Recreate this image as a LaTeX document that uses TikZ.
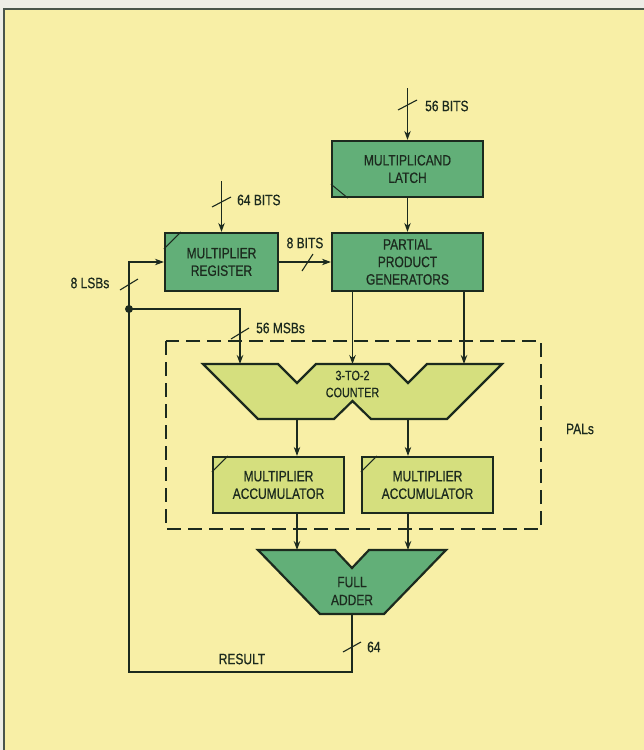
\documentclass[tikz,border=0pt]{standalone}
\usepackage{fontspec}
\setmainfont{Liberation Sans}[FakeStretch=0.8, FakeBold=0.6]
\usetikzlibrary{arrows.meta}
\definecolor{bgyel}{HTML}{F8EFA6}
\definecolor{outer}{HTML}{EDEDE6}
\definecolor{dkgreen}{HTML}{62AF78}
\definecolor{ltgreen}{HTML}{D5DF7E}
\definecolor{ink}{HTML}{1C2A1E}
\tikzset{
  blk/.style={draw=ink, line width=2.2pt, inner sep=0pt, align=center, font=\fontsize{15}{17.5}\selectfont, text=ink},
  dkbox/.style={blk, fill=dkgreen},
  ltbox/.style={blk, fill=ltgreen},
  wire/.style={draw=ink, line width=1.1pt},
  arr/.style={wire, -{Stealth[length=9pt,width=6.5pt]}},
  lbl/.style={font=\fontsize{15}{17}\selectfont, text=ink, inner sep=0pt},
  tick/.style={draw=ink, line width=1.1pt},
  corner/.style={draw=ink, line width=1pt},
}
\begin{document}
\begin{tikzpicture}[x=1pt,y=-1pt]
\useasboundingbox (0,0) rectangle (644,750);
\fill[outer] (0,0) rectangle (644,750);
\fill[bgyel] (3,8) rectangle (644,750);
\draw[draw=ink!80, line width=2.4pt] (4,750) -- (4,9) -- (644,9);

% blocks
\node[dkbox, minimum width=151pt, minimum height=56pt] (latch) at (407.5,169) {MULTIPLICAND\\LATCH};
\node[dkbox, minimum width=113pt, minimum height=58pt] (mreg) at (221.5,262) {MULTIPLIER\\REGISTER};
\node[dkbox, minimum width=151pt, minimum height=58pt] (ppg) at (407.5,262) {PARTIAL\\PRODUCT\\GENERATORS};
\node[ltbox, minimum width=131pt, minimum height=56pt] (acc1) at (278.5,485) {MULTIPLIER\\ACCUMULATOR};
\node[ltbox, minimum width=131pt, minimum height=56pt] (acc2) at (427.5,485) {MULTIPLIER\\ACCUMULATOR};

% corner marks
\draw[corner] ([yshift=-17pt]mreg.north west) -- ([xshift=17pt]mreg.north west);
\draw[corner] ([yshift=14pt]latch.south west) -- ([xshift=17pt]latch.south west);
\draw[corner] ([yshift=-16pt]acc1.north west) -- ([xshift=16pt]acc1.north west);
\draw[corner] ([yshift=-16pt]acc2.north west) -- ([xshift=16pt]acc2.north west);

% counter
\coordinate (cin1) at (240,364);
\coordinate (cin2) at (352.5,364);
\coordinate (cin3) at (464,364);
\coordinate (cout1) at (297,419);
\coordinate (cout2) at (408,419);
\draw[fill=ltgreen, draw=ink, line width=2.2pt, line join=miter]
  (203,364) -- (278,364) -- (297,383) -- (316,364) -- (389,364) -- (408,383) -- (427,364) -- (502,364)
  -- (447,419) -- (371,419) -- (352.5,401) -- (334,419) -- (258,419) -- cycle;
\node[lbl, align=center, font=\fontsize{13.5}{17}\selectfont] (counter) at (352.5,384) {3-TO-2\\COUNTER};

% full adder
\coordinate (ain1) at (297,550);
\coordinate (ain2) at (408,550);
\coordinate (aout) at (352,614);
\draw[fill=dkgreen, draw=ink, line width=2.2pt, line join=miter]
  (258,550) -- (335,550) -- (352,568) -- (369,550) -- (446,550) -- (384,614) -- (320,614) -- cycle;
\node[lbl, align=center, font=\fontsize{15}{18}\selectfont] (adder) at (352,591) {FULL\\ADDER};

% dashed PAL region
\draw[draw=ink, line width=1.2pt, dash pattern=on 14pt off 7pt] (166,341) rectangle (541,529);
\node[lbl] (pals) at (580,429) {PALs};

% inputs
\coordinate (in56) at (407.5,88);
\coordinate (in64) at (221.5,181);
\draw[arr] (in56) -- (latch.north);
\draw[tick] (398,110) -- (417,100);
\node[lbl, anchor=west] (l56) at (425,106) {56 BITS};
\draw[arr] (in64) -- (mreg.north);
\draw[tick] (212,207) -- (231,197);
\node[lbl, anchor=west] (l64) at (237,200) {64 BITS};

\draw[arr] (latch.south) -- (ppg.north);
\draw[arr] (mreg.east) -- (ppg.west);
\draw[tick] (302,271) -- (313,254);
\node[lbl] (l8) at (305,243) {8 BITS};

% PPG to counter
\draw[arr] (ppg.south -| cin2) -- (cin2);
\draw[arr] (ppg.south -| cin3) -- (cin3);

% counter to accumulators
\draw[arr] (cout1) -- (cout1 |- acc1.north);
\draw[arr] (cout2) -- (cout2 |- acc2.north);

% accumulators to adder
\draw[arr] (acc1.south -| ain1) -- (ain1);
\draw[arr] (acc2.south -| ain2) -- (ain2);

% feedback
\coordinate (fbl) at (129,672);
\coordinate (fbr) at (352,672);
\coordinate (dot) at (129,309);
\coordinate (fbt) at (129,262);
\coordinate (msb) at (240,309);
\draw[wire] (aout) -- (fbr) -- (fbl) -- (dot);
\draw[arr] (dot) -- (fbt) -- (mreg.west);
\draw[arr] (dot) -- (msb) -- (cin1);
\fill[ink] (dot) circle (4pt);
\draw[tick] (343,652) -- (361,642);
\node[lbl, anchor=west] (l64b) at (367,647) {64};
\node[lbl] (res) at (242,659) {RESULT};
\draw[tick] (120,290) -- (138,279);
\node[lbl] (lsb) at (90,283) {8 LSBs};
\draw[tick] (231,339) -- (249,328);
\node[lbl, anchor=west] (msbl) at (256,328) {56 MSBs};
\end{tikzpicture}
\end{document}
